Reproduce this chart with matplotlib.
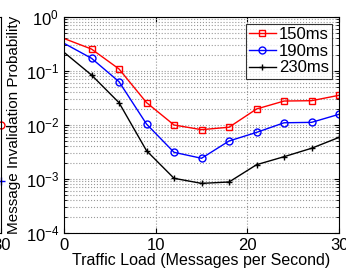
import matplotlib.pyplot as plt
import numpy as np
from matplotlib.ticker import LogLocator, NullFormatter

plt.rcParams['font.family'] = ['Liberation Sans', 'DejaVu Sans']

load = [0, 3, 6, 9, 12, 15, 18, 21, 24, 27, 30]
p150 = [0.40, 0.255, 0.109, 0.026, 0.010, 0.0082, 0.0091, 0.0198, 0.0278, 0.0282, 0.0355]
p190 = [0.326, 0.172, 0.0634, 0.0104, 0.00312, 0.00242, 0.00506, 0.0073, 0.0110, 0.0112, 0.0158]
p230 = [0.222, 0.0843, 0.0259, 0.00334, 0.00103, 0.00083, 0.00088, 0.00184, 0.00259, 0.00371, 0.0059]

fig = plt.figure(figsize=(3.46, 2.73), dpi=100)

# neighbouring subplot, only its right edge is visible
ax0 = fig.add_axes([-0.8, 0.1465, 0.804, 0.7912])
ax0.set_xlim(0, 30)
ax0.set_yscale('log')
ax0.set_ylim(1e-4, 1)
ax0.plot([30], [0.01], 'o', color='red', mfc='none', ms=5, clip_on=False)
ax0.plot([30], [0.0009], '+', color='blue', ms=6, clip_on=False)
ax0.set_xticks([30])
ax0.set_xticklabels(['30'], fontsize=12)
ax0.set_yticklabels([])
ax0.tick_params(direction='in', which='both')

ax = fig.add_axes([0.185, 0.1465, 0.795, 0.7912])
ax.plot(load, p150, '-s', color='red', mfc='none', ms=4.2, lw=1, markevery=slice(1, None), label='150ms')
ax.plot(load, p190, '-o', color='blue', mfc='none', ms=5, lw=1, markevery=slice(1, None), label='190ms')
ax.plot(load, p230, '-+', color='black', ms=5, lw=1, markevery=slice(1, None), label='230ms')

ax.set_yscale('log')
ax.set_xlim(0, 30)
ax.set_ylim(1e-4, 1)
ax.set_xticks([0, 10, 20, 30])
ax.yaxis.set_major_locator(LogLocator(base=10, numticks=10))
ax.yaxis.set_minor_locator(LogLocator(base=10, subs=np.arange(2, 10), numticks=20))
ax.yaxis.set_minor_formatter(NullFormatter())
ax.tick_params(direction='in', which='both', top=True, right=True, labelsize=12)
ax.grid(True, which='major', linestyle=':', color='#999999', lw=0.8)
ax.grid(True, which='minor', axis='y', linestyle=':', color='#999999', lw=0.8)

ax.set_xlabel('Traffic Load (Messages per Second)', fontsize=11.5, labelpad=0)
ax.set_ylabel('Message Invalidation Probability', fontsize=11)
ax.yaxis.set_label_coords(-0.155, 0.5)

leg = ax.legend(loc='upper right', fontsize=12, fancybox=False, edgecolor='black',
                handlelength=1.6, handletextpad=0.2, borderpad=0.2, labelspacing=0.1,
                borderaxespad=0.4)
leg.get_frame().set_linewidth(0.8)

plt.savefig('out.png', dpi=100)
